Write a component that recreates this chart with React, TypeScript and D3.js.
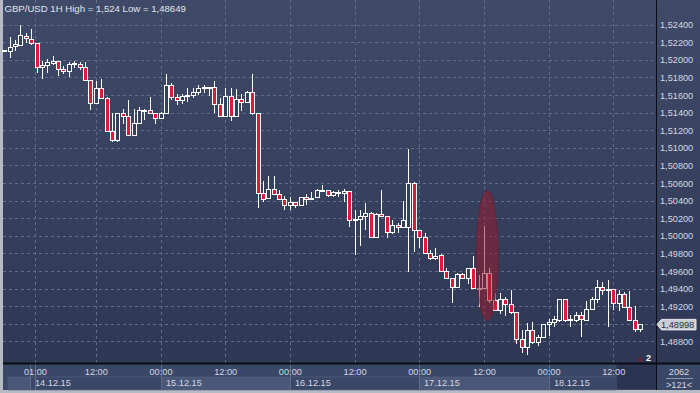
import * as d3 from "d3"

// hourly GBP/USD candles
const opens = [
  1.521, 1.5211, 1.5216, 1.5217, 1.5228, 1.5224, 1.522, 1.5192, 1.5194, 1.5197,
  1.5199, 1.519, 1.5188, 1.5196, 1.5196, 1.5192, 1.5177, 1.5151, 1.5168, 1.5157,
  1.5119, 1.5109, 1.514, 1.5137, 1.5115, 1.5129, 1.5143, 1.5143, 1.514, 1.5134,
  1.514, 1.5172, 1.5158, 1.5155, 1.5159, 1.516, 1.5164, 1.5168, 1.5169, 1.5169,
  1.515, 1.5137, 1.5159, 1.5137, 1.5156, 1.5152, 1.5164, 1.514, 1.5049, 1.5043,
  1.5054, 1.5048, 1.5042, 1.5035, 1.5039, 1.5036, 1.5044, 1.5042, 1.5044, 1.5053,
  1.5053, 1.5047, 1.505, 1.5049, 1.5051, 1.5018, 1.502, 1.5023, 1.5026, 1.4999,
  1.5025, 1.5023, 1.5005, 1.5013, 1.501, 1.5011, 1.506, 1.5007, 1.4999, 1.4981,
  1.4975, 1.4979, 1.496, 1.4953, 1.4942, 1.4957, 1.4952, 1.4964, 1.4941, 1.4941,
  1.4958, 1.4927, 1.4916, 1.4929, 1.4923, 1.4914, 1.4883, 1.4874, 1.4893, 1.488,
  1.4885, 1.49, 1.4903, 1.4905, 1.4929, 1.4905, 1.4905, 1.491, 1.4905, 1.4917,
  1.4929, 1.4942, 1.4939, 1.494, 1.4924, 1.4934, 1.4919, 1.4905, 1.4895,
]
const highs = [
  1.5212, 1.5226, 1.5223, 1.524, 1.5231, 1.5236, 1.522, 1.5199, 1.5201, 1.5205,
  1.5199, 1.5193, 1.5198, 1.5199, 1.5198, 1.5198, 1.5177, 1.5176, 1.5179, 1.5158,
  1.514, 1.514, 1.5145, 1.5155, 1.5145, 1.5147, 1.5145, 1.5158, 1.514, 1.5141,
  1.5184, 1.5174, 1.5162, 1.5162, 1.5168, 1.5168, 1.5172, 1.5172, 1.517, 1.5176,
  1.5157, 1.5168, 1.5168, 1.5167, 1.5162, 1.5165, 1.5184, 1.514, 1.5063, 1.5068,
  1.5068, 1.5052, 1.5046, 1.5045, 1.5039, 1.5045, 1.5048, 1.505, 1.5054, 1.5058,
  1.5053, 1.5051, 1.5052, 1.5054, 1.5051, 1.503, 1.503, 1.5038, 1.5028, 1.5026,
  1.5052, 1.5023, 1.5018, 1.5015, 1.504, 1.5099, 1.5062, 1.5007, 1.5004, 1.4984,
  1.4987, 1.498, 1.4964, 1.4953, 1.4958, 1.4958, 1.4964, 1.4977, 1.4956, 1.5012,
  1.4964, 1.4935, 1.4935, 1.4931, 1.4939, 1.4914, 1.4893, 1.4901, 1.4902, 1.4888,
  1.49, 1.4906, 1.4909, 1.4929, 1.4929, 1.491, 1.4914, 1.4914, 1.4926, 1.4931,
  1.495, 1.4948, 1.495, 1.494, 1.4939, 1.4937, 1.4938, 1.4921, 1.48998,
]
const lows = [
  1.521, 1.5203, 1.5211, 1.5216, 1.5219, 1.5217, 1.5185, 1.5179, 1.5185, 1.5195,
  1.5182, 1.5184, 1.5181, 1.5191, 1.5189, 1.5177, 1.5143, 1.5151, 1.5157, 1.5119,
  1.5107, 1.5107, 1.5128, 1.5115, 1.5115, 1.5128, 1.5132, 1.514, 1.5127, 1.5133,
  1.514, 1.5155, 1.5149, 1.515, 1.5153, 1.5157, 1.516, 1.5163, 1.5159, 1.514,
  1.5137, 1.5135, 1.5131, 1.5137, 1.5142, 1.5151, 1.5138, 1.5032, 1.5039, 1.5042,
  1.5047, 1.5041, 1.503, 1.503, 1.5032, 1.5035, 1.5035, 1.5041, 1.5044, 1.5051,
  1.5045, 1.5045, 1.5044, 1.5039, 1.5011, 1.4979, 1.4989, 1.5007, 1.4998, 1.4998,
  1.5023, 1.4998, 1.5002, 1.5004, 1.501, 1.4959, 1.4982, 1.4987, 1.498, 1.4973,
  1.4973, 1.4959, 1.4952, 1.4924, 1.4941, 1.4951, 1.4946, 1.494, 1.4919, 1.4941,
  1.4924, 1.4915, 1.4912, 1.4909, 1.4912, 1.4878, 1.4867, 1.48649, 1.4878, 1.4875,
  1.4884, 1.4887, 1.4897, 1.4902, 1.4902, 1.4897, 1.4903, 1.4886, 1.4905, 1.4916,
  1.4924, 1.4933, 1.4897, 1.4916, 1.4915, 1.4918, 1.4904, 1.4891, 1.4891,
]
const closes = [
  1.5212, 1.5215, 1.5218, 1.5229, 1.5225, 1.522, 1.5192, 1.5194, 1.5198, 1.5199,
  1.519, 1.5188, 1.5196, 1.5197, 1.5192, 1.5177, 1.5151, 1.5168, 1.5157, 1.5119,
  1.5109, 1.514, 1.5137, 1.5115, 1.5129, 1.5143, 1.5143, 1.514, 1.5134, 1.514,
  1.5172, 1.5158, 1.5155, 1.5159, 1.5161, 1.5164, 1.5168, 1.5169, 1.5169, 1.515,
  1.5137, 1.5159, 1.5137, 1.5156, 1.5152, 1.5164, 1.514, 1.5049, 1.5042, 1.5054,
  1.5048, 1.5042, 1.5035, 1.5039, 1.5036, 1.5044, 1.5042, 1.5043, 1.5053, 1.5052,
  1.5047, 1.505, 1.5049, 1.5051, 1.5018, 1.502, 1.5023, 1.5026, 1.4999, 1.5025,
  1.5023, 1.5005, 1.5013, 1.501, 1.5018, 1.506, 1.5007, 1.4999, 1.4981, 1.4975,
  1.4978, 1.496, 1.4953, 1.4942, 1.4957, 1.4952, 1.4964, 1.4941, 1.4941, 1.4958,
  1.4927, 1.4916, 1.4929, 1.4923, 1.4914, 1.4883, 1.4874, 1.4893, 1.488, 1.4885,
  1.49, 1.4903, 1.4906, 1.4929, 1.4905, 1.4906, 1.491, 1.4906, 1.4917, 1.4929,
  1.4942, 1.4939, 1.494, 1.4924, 1.4934, 1.4919, 1.4905, 1.4895, 1.48998,
]

const priceTicks = [
  1.488, 1.49, 1.492, 1.494, 1.496, 1.498, 1.5, 1.502, 1.504, 1.506,
  1.508, 1.51, 1.512, 1.514, 1.516, 1.518, 1.52, 1.522, 1.524,
]
// bar positions of the hour ticks and day starts
const hourTicks = [5.7, 17, 29, 41, 53, 65, 77, 89, 101, 113]
const hourLabels = ["01:00", "12:00", "00:00", "12:00", "00:00", "12:00", "00:00", "12:00", "00:00", "12:00"]
const dayStarts = [-0.7, 4.8, 29, 53, 77, 101]
const dayLabels = ["", "14.12.15", "15.12.15", "16.12.15", "17.12.15", "18.12.15"]
const dayEnd = 113.5

const title = "GBP/USD 1H High = 1,524 Low = 1,48649"
const lastPrice = 1.48998
const barsTotal = "2062"
const barsVisible = ">121<"

// highlighted bars (ellipse): centre bar, price span
const markBar = 89.5
const markHigh = 1.5052
const markLow = 1.4904

const W = 700
const H = 393
const plotL = 3
const plotR = 656
const plotB = 363
const font = "'Liberation Sans', Arial, sans-serif"

const fmt = (v: number) => v.toFixed(5).replace(".", ",")

export default function App() {
  const x = d3.scaleLinear().domain([0, opens.length - 1]).range([4.7, 640.7])
  const y = d3.scaleLinear().domain([1.488, 1.524]).range([341.8, 25])
  const px = (v: number) => Math.floor(v) + 0.5

  const candles = opens.map((o, i) => {
    const c = closes[i]
    const cx = px(x(i))
    const top = Math.round(y(Math.max(o, c)))
    const bot = Math.round(y(Math.min(o, c)))
    return { cx, top, bot, up: c >= o, hi: Math.round(y(highs[i])), lo: Math.round(y(lows[i])) }
  })

  const lastY = y(lastPrice)

  return (
    <svg width={W} height={H} style={{ display: "block", position: "absolute", left: 0, top: 0 }} fontFamily={font}>
      <style>{"body{margin:0}"}</style>
      <defs>
        <linearGradient id="bg" x1="0" y1="0" x2="0" y2="1">
          <stop offset="0" stopColor="#3f4a68" />
          <stop offset="1" stopColor="#2d3754" />
        </linearGradient>
      </defs>
      <rect x={0} y={0} width={W} height={H} fill="#b6bac4" />
      <rect x={plotL} y={0} width={W - plotL} height={390} fill="url(#bg)" />

      {/* grid */}
      {priceTicks.map((t) => (
        <line key={t} x1={plotL} x2={plotR} y1={px(y(t))} y2={px(y(t))} stroke="#5f6c8a" strokeDasharray="3,3" />
      ))}
      {hourTicks.map((t, i) => (
        <line key={i} x1={px(x(t))} x2={px(x(t))} y1={0} y2={plotB} stroke="#5f6c8a" strokeDasharray="3,3" />
      ))}

      {/* candles */}
      <g shapeRendering="crispEdges">
        {candles.map((d, i) => (
          <g key={i}>
            <line x1={d.cx} x2={d.cx} y1={d.hi} y2={d.lo} stroke="#ffffff" />
            <rect
              x={d.cx - 2}
              y={d.top + 0.5}
              width={4}
              height={Math.max(d.bot - d.top, 1)}
              fill={d.up ? "#35405e" : "#e3173a"}
              stroke="#ffffff"
            />
          </g>
        ))}
      </g>

      {/* highlight ellipse */}
      <ellipse
        cx={x(markBar)}
        cy={(y(markHigh) + y(markLow)) / 2}
        rx={11}
        ry={(y(markLow) - y(markHigh)) / 2}
        fill="rgb(150,25,45)"
        fillOpacity={0.55}
        stroke="rgb(110,25,45)"
        strokeOpacity={0.6}
      />

      <text x={4.5} y={11.5} fontSize={9.6} fill="#e1e5ec">{title}</text>

      {/* marker near bottom right */}
      <path d="M637,361 L640,357 L643,361 Z" fill="#7a1f33" />
      <text x={646} y={361} fontSize={9} fontWeight="bold" fill="#ffffff">2</text>

      {/* right axis */}
      <line x1={plotR + 0.5} x2={plotR + 0.5} y1={0} y2={390} stroke="#0b0d14" />
      {priceTicks.map((t) => (
        <text key={t} x={660} y={y(t) + 3.2} fontSize={9.2} fill="#d4d8e1">{fmt(t)}</text>
      ))}
      <path
        d={`M657,${lastY} L661.5,${lastY - 5} L696,${lastY - 5} L696,${lastY + 5.5} L661.5,${lastY + 5.5} Z`}
        fill="#c9ccd3"
        stroke="#e8eaee"
      />
      <text x={661} y={lastY + 3.4} fontSize={9.2} fill="#2b3142">{fmt(lastPrice)}</text>

      {/* time axis */}
      <rect x={plotL} y={364} width={plotR - plotL} height={26} fill="#3b4767" />
      {dayStarts.map((s, i) => {
        const x0 = i === 0 ? 8 : px(x(s))
        const x1 = i < dayStarts.length - 1 ? px(x(dayStarts[i + 1])) : px(x(dayEnd))
        return (
          <g key={i}>
            <rect x={x0} y={377} width={x1 - x0} height={13} fill={i % 2 === 0 ? "#4a5778" : "#3b4767"} stroke="#55627f" strokeWidth={0.6} />
            {i > 0 && <line x1={x0} x2={x0} y1={364} y2={390} stroke="#5e6b89" />}
            <text x={x0 + 4.5} y={385.8} fontSize={9.2} fill="#d4d8e1">{dayLabels[i]}</text>
          </g>
        )
      })}
      <line x1={px(x(hourTicks[0]))} x2={px(x(hourTicks[0]))} y1={364} y2={390} stroke="#5e6b89" />
      <rect x={px(x(dayEnd))} y={364} width={plotR - px(x(dayEnd))} height={25} fill="#2a3450" />
      {hourTicks.map((t, i) => (
        <text key={i} x={x(t)} y={374.5} fontSize={9.2} fill="#d4d8e1" textAnchor="middle">{hourLabels[i]}</text>
      ))}
      <line x1={plotL} x2={plotR} y1={363.5} y2={363.5} stroke="#0b0d14" strokeWidth={2} />

      {/* bar counter box */}
      <rect x={plotR + 1} y={364.5} width={W - plotR - 1} height={25.5} fill="#3b4767" />
      <line x1={plotR} x2={W} y1={363.5} y2={363.5} stroke="#0b0d14" strokeWidth={2} />
      <text x={679} y={374.5} fontSize={9.2} fill="#d4d8e1" textAnchor="middle">{barsTotal}</text>
      <line x1={666} x2={693} y1={378.5} y2={378.5} stroke="#8c96ac" />
      <text x={679} y={388} fontSize={9.2} fill="#d4d8e1" textAnchor="middle">{barsVisible}</text>
    </svg>
  )
}
